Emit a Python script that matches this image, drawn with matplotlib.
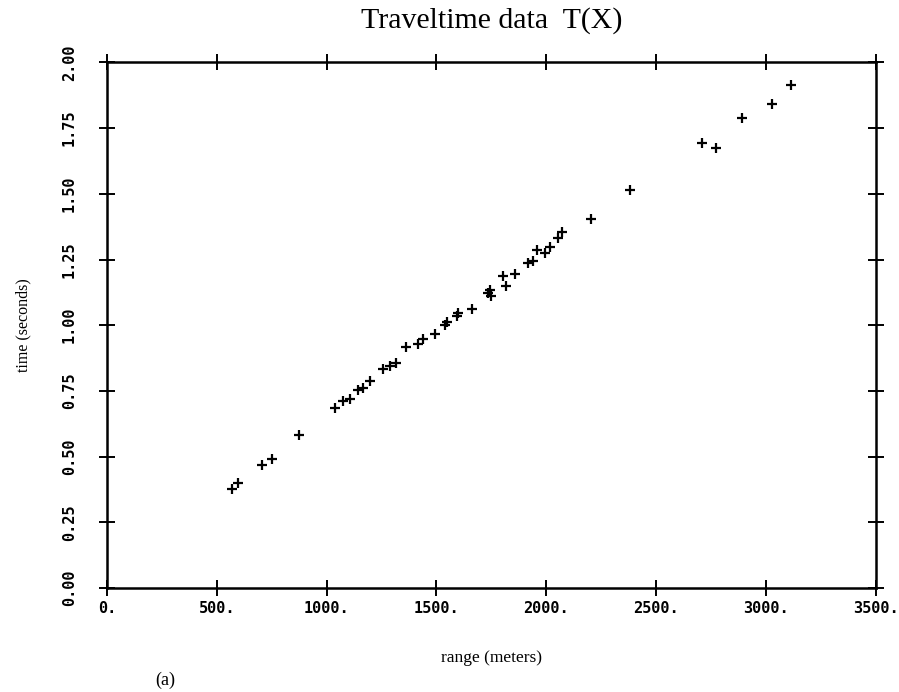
import matplotlib
matplotlib.use('Agg')
import matplotlib.pyplot as plt

# range (m) and traveltime (s)
range_m = [567, 598, 704, 750, 875, 1038, 1076, 1106, 1144, 1167, 1197,
           1258, 1288, 1318, 1361, 1417, 1440, 1493, 1538, 1550, 1592, 1600,
           1660, 1736, 1743, 1750, 1804, 1819, 1857, 1916, 1940, 1956, 1994,
           2016, 2054, 2070, 2202, 2381, 2711, 2775, 2893, 3028, 3113]
time_s = [0.378, 0.399, 0.470, 0.491, 0.582, 0.684, 0.712, 0.721, 0.753,
          0.763, 0.788, 0.832, 0.845, 0.855, 0.917, 0.929, 0.946, 0.965,
          1.000, 1.012, 1.034, 1.045, 1.060, 1.122, 1.135, 1.110, 1.186,
          1.148, 1.194, 1.236, 1.245, 1.287, 1.274, 1.299, 1.333, 1.353,
          1.404, 1.514, 1.693, 1.675, 1.789, 1.842, 1.914]

x_ticks = [0, 500, 1000, 1500, 2000, 2500, 3000, 3500]
x_labels = ['0.', '500.', '1000.', '1500.', '2000.', '2500.', '3000.', '3500.']
y_ticks = [0.0, 0.25, 0.5, 0.75, 1.0, 1.25, 1.5, 1.75, 2.0]
y_labels = ['0.00', '0.25', '0.50', '0.75', '1.00', '1.25', '1.50', '1.75', '2.00']

fig = plt.figure(figsize=(8.99, 6.92), dpi=100, facecolor='white')
ax = fig.add_axes([0.119, 0.150, 0.855, 0.760])

ax.plot(range_m, time_s, linestyle='none', marker='+', color='black',
        markersize=7, markeredgewidth=1.6)

ax.set_xlim(0, 3500)
ax.set_ylim(0, 2.0)

for s in ax.spines.values():
    s.set_linewidth(1.8)
    s.set_color('black')

mono = {'family': 'DejaVu Sans Mono', 'weight': 'bold', 'size': 11}
ax.set_xticks(x_ticks)
ax.set_xticklabels(x_labels, fontdict=mono)
ax.set_yticks(y_ticks)
ax.set_yticklabels(y_labels, fontdict=mono, rotation=90, va='center')
ax.tick_params(axis='both', which='major', direction='inout', length=11,
               width=1.4, top=True, right=True, color='black')
ax.tick_params(axis='x', pad=4)
ax.tick_params(axis='y', pad=16)

serif = 'Liberation Serif'
ax.set_title('Traveltime data  T(X)', family=serif, fontsize=21.5, pad=25)
ax.set_xlabel('range (meters)', family=serif, fontsize=12.5, labelpad=24)
ax.set_ylabel('time (seconds)', family=serif, fontsize=11.5, labelpad=22)
fig.text(165 / 899, 1 - 680 / 692, '(a)', family=serif, fontsize=13,
         ha='center', va='center')

fig.savefig('out.png', dpi=100, facecolor='white')
